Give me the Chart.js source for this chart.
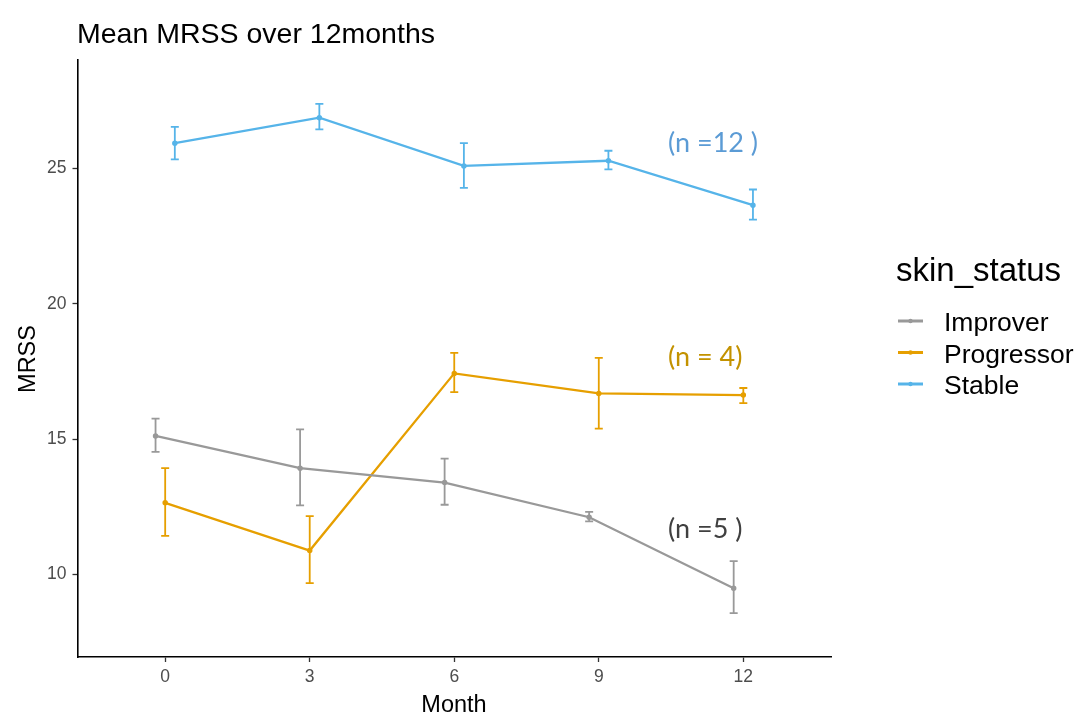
<!DOCTYPE html>
<html>
<head>
<meta charset="utf-8">
<script src="https://cdn.jsdelivr.net/npm/chart.js@4"></script>
<style>
    html, body { margin: 0; padding: 0; background: #ffffff; }
    #wrap { width: 1082px; height: 718px; }
</style>
</head>
<body>
<div id="wrap"><canvas id="mrssChart" width="1082" height="718"></canvas></div>
<script>

// data
const months = [0, 3, 6, 9, 12];
const groups = ["Improver", "Progressor", "Stable"];

const improverMean = [15.12, 13.93, 13.40, 12.12, 9.50];
const improverLow = [14.53, 12.56, 12.58, 11.97, 8.58];
const improverHigh = [15.76, 15.36, 14.28, 12.32, 10.50];

const progressorMean = [12.65, 10.89, 17.43, 16.69, 16.63];
const progressorLow = [11.43, 9.69, 16.74, 15.39, 16.33];
const progressorHigh = [13.93, 12.16, 18.19, 18.00, 16.89];

const stableMean = [25.93, 26.87, 25.09, 25.28, 23.64];
const stableLow = [25.33, 26.44, 24.28, 24.96, 23.11];
const stableHigh = [26.53, 27.38, 25.93, 25.65, 24.22];

const xTicks = [0, 3, 6, 9, 12];
const yTicks = [10, 15, 20, 25];

const groupLabels = ["(n =5 )", "(n = 4)", "(n =12 )"];

const colors = ["#999999", "#E69F00", "#56B4E9"];
const labelColors = ["#404040", "#C39200", "#5B9BD5"];
const dodge = [-0.2, 0, 0.2];

const means = [improverMean, progressorMean, stableMean];
const lows = [improverLow, progressorLow, stableLow];
const highs = [improverHigh, progressorHigh, stableHigh];

const sans = "'Liberation Sans', Arial, sans-serif";

function buildDataset(i) {

    return {
        label: groups[i],
        data: months.map((m, k) => ({ x: m + dodge[i], y: means[i][k] })),
        borderColor: colors[i],
        backgroundColor: colors[i],
        borderWidth: 2.3,
        pointRadius: 1.6,
        pointHoverRadius: 1.6,
        tension: 0,
        lows: lows[i],
        highs: highs[i]
    };

}

const errorBars = {
    id: "errorBars",
    afterDatasetsDraw(chart) {
        const ctx = chart.ctx;
        const xs = chart.scales.x;
        const ys = chart.scales.y;
        chart.data.datasets.forEach(ds => {
            ctx.save();
            ctx.strokeStyle = ds.borderColor;
            ctx.lineWidth = 1.8;
            ds.data.forEach((p, k) => {
                const px = xs.getPixelForValue(p.x);
                const top = ys.getPixelForValue(ds.highs[k]);
                const bot = ys.getPixelForValue(ds.lows[k]);
                ctx.beginPath();
                ctx.moveTo(px, top);
                ctx.lineTo(px, bot);
                ctx.moveTo(px - 4, top);
                ctx.lineTo(px + 4, top);
                ctx.moveTo(px - 4, bot);
                ctx.lineTo(px + 4, bot);
                ctx.stroke();
            });
            ctx.restore();
        });
    }
};

const extraText = {
    id: "extraText",
    afterDraw(chart) {
        const ctx = chart.ctx;
        const ys = chart.scales.y;
        ctx.save();

        // title
        ctx.fillStyle = "#000000";
        ctx.font = "28.5px " + sans;
        ctx.textBaseline = "alphabetic";
        ctx.textAlign = "left";
        ctx.fillText("Mean MRSS over 12months", 77, 43);

        // axis titles
        ctx.font = "23.5px " + sans;
        ctx.textAlign = "center";
        ctx.fillText("Month", 454, 712);
        ctx.save();
        ctx.translate(35, 359);
        ctx.rotate(-Math.PI / 2);
        ctx.fillText("MRSS", 0, 0);
        ctx.restore();

        // n labels next to the last points
        ctx.font = "27px Lato, 'Open Sans', sans-serif";
        ctx.textAlign = "left";
        ctx.textBaseline = "middle";
        const labelValues = [11.68, 18.02, 25.92];
        groups.forEach((g, i) => {
            ctx.fillStyle = labelColors[i];
            ctx.fillText(groupLabels[i], 668, ys.getPixelForValue(labelValues[i]));
        });

        // legend
        ctx.textBaseline = "alphabetic";
        ctx.fillStyle = "#000000";
        ctx.font = "33px " + sans;
        ctx.fillText("skin_status", 896, 281);
        ctx.font = "26.5px " + sans;
        groups.forEach((g, i) => {
            const y = 321 + i * 31.5;
            ctx.strokeStyle = colors[i];
            ctx.lineWidth = 3;
            ctx.beginPath();
            ctx.moveTo(898, y);
            ctx.lineTo(923, y);
            ctx.stroke();
            ctx.fillStyle = colors[i];
            ctx.beginPath();
            ctx.arc(910.5, y, 2.2, 0, Math.PI * 2);
            ctx.fill();
            ctx.fillStyle = "#000000";
            ctx.fillText(g, 944, y + 10);
        });

        ctx.restore();
    }
};

new Chart(document.getElementById("mrssChart"), {

    type: "line",

    data: {
        datasets: groups.map((g, i) => buildDataset(i))
    },

    options: {

        responsive: false,
        animation: false,
        devicePixelRatio: 1,

        layout: {
            padding: { left: 0, top: 60, right: 251, bottom: 0 }
        },

        plugins: {
            legend: { display: false },
            tooltip: { enabled: false }
        },

        scales: {

            x: {
                type: "linear",
                min: -1.82,
                max: 13.82,
                afterBuildTicks: scale => {
                    scale.ticks = xTicks.map(v => ({ value: v }));
                },
                afterFit: scale => { scale.height = 61; },
                grid: {
                    drawOnChartArea: false,
                    drawTicks: true,
                    tickLength: 5,
                    tickWidth: 1.3,
                    tickColor: "#333333"
                },
                border: { display: true, color: "#000000", width: 1.6 },
                ticks: {
                    color: "#4D4D4D",
                    padding: 5,
                    maxRotation: 0,
                    font: { family: sans, size: 17.5 }
                }
            },

            y: {
                min: 6.96,
                max: 29.0,
                afterBuildTicks: scale => {
                    scale.ticks = yTicks.map(v => ({ value: v }));
                },
                afterFit: scale => { scale.width = 77.5; },
                grid: {
                    drawOnChartArea: false,
                    drawTicks: true,
                    tickLength: 5,
                    tickWidth: 1.3,
                    tickColor: "#333333"
                },
                border: { display: true, color: "#000000", width: 1.6 },
                ticks: {
                    color: "#4D4D4D",
                    padding: 6,
                    font: { family: sans, size: 17.5 }
                }
            }

        }

    },

    plugins: [errorBars, extraText]

});

</script>
</body>
</html>
